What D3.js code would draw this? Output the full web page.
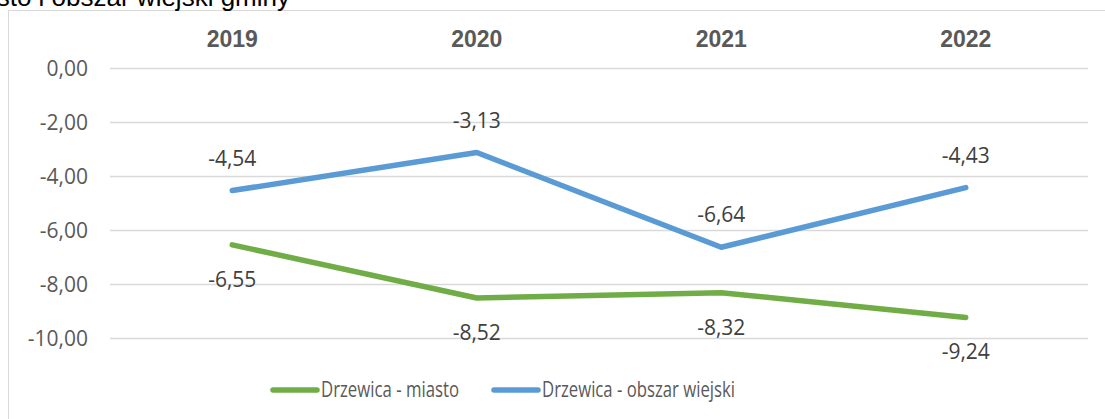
<!DOCTYPE html>
<html>
<head>
<meta charset="utf-8">
<script src="https://cdn.jsdelivr.net/npm/d3@7"></script>
<style>
  body { margin: 0; background: #fff; }
  svg { display: block; }
</style>
</head>
<body>
<div id="chart"></div>
<script>
// dane
var years = ['2019', '2020', '2021', '2022'];
var miasto = [-6.55, -8.52, -8.32, -9.24];
var obszarWiejski = [-4.54, -3.13, -6.64, -4.43];
var yTicks = [0, -2, -4, -6, -8, -10];
var seriesNames = ['Drzewica - miasto', 'Drzewica - obszar wiejski'];
var seriesColors = ['#70AD47', '#5B9BD5'];

var width = 1105, height = 419;
var plot = { left: 110, right: 1088, top: 68, bottom: 338 };

var pl = d3.formatLocale({ decimal: ',', thousands: ' ', grouping: [3], currency: ['', ' zł'], minus: '-' });
var fmt = pl.format('.2f');

var svg = d3.select('#chart').append('svg')
    .attr('width', width)
    .attr('height', height);

// ramka wykresu (prawa i dolna krawedz poza kadrem)
svg.append('rect')
    .attr('x', 8.5).attr('y', 10.5)
    .attr('width', 1200).attr('height', 500)
    .attr('fill', 'none')
    .attr('stroke', '#d9d9d9')
    .attr('stroke-width', 1);

// tytul - widoczny tylko dolny fragment
svg.append('text')
    .attr('x', 290).attr('y', 6)
    .attr('text-anchor', 'end')
    .style('font-family', '"Liberation Sans", Arial, sans-serif')
    .style('font-size', '26px')
    .style('fill', '#000')
    .text('Saldo migracji – miasto i obszar wiejski gminy');

var x = d3.scaleBand()
    .domain(years)
    .range([plot.left, plot.right]);

var y = d3.scaleLinear()
    .domain([-10, 0])
    .range([plot.bottom, plot.top]);

// os Y + linie siatki
var yAxis = svg.append('g')
    .attr('transform', 'translate(' + plot.left + ',0)')
    .call(d3.axisLeft(y)
        .tickValues(yTicks)
        .tickSize(-(plot.right - plot.left))
        .tickPadding(22)
        .tickFormat(fmt));
yAxis.select('.domain').remove();
yAxis.selectAll('.tick line')
    .attr('stroke', '#d9d9d9')
    .attr('stroke-width', 1.5);
yAxis.selectAll('.tick text')
    .attr('dy', '0.36em')
    .style('font-family', '"Open Sans", sans-serif')
    .style('font-size', '21px')
    .style('fill', '#595959');

// kategorie u gory
var xAxis = svg.append('g')
    .attr('transform', 'translate(0,47)')
    .call(d3.axisTop(x).tickSize(0).tickPadding(0));
xAxis.select('.domain').remove();
xAxis.selectAll('.tick text')
    .attr('dy', '0em')
    .style('font-family', '"Liberation Sans", Arial, sans-serif')
    .style('font-weight', 'bold')
    .style('font-size', '23px')
    .style('fill', '#595959');

var cx = function (d, i) { return x(years[i]) + x.bandwidth() / 2; };

var line = d3.line()
    .x(cx)
    .y(function (d) { return y(d); });

var series = [miasto, obszarWiejski];
// offsety etykiet: zielona pod punktem, niebieska nad punktem
var labelDy = [42, -25];

series.forEach(function (vals, s) {
    svg.append('path')
        .datum(vals)
        .attr('d', line)
        .attr('fill', 'none')
        .attr('stroke', seriesColors[s])
        .attr('stroke-width', 5.5)
        .attr('stroke-linecap', 'round')
        .attr('stroke-linejoin', 'round');
});

series.forEach(function (vals, s) {
    svg.selectAll('.lbl' + s)
        .data(vals)
        .enter()
        .append('text')
        .attr('class', 'lbl' + s)
        .attr('x', cx)
        .attr('y', function (d) { return y(d) + labelDy[s]; })
        .attr('text-anchor', 'middle')
        .style('font-family', '"Open Sans", sans-serif')
        .style('font-size', '21px')
        .style('fill', '#404040')
        .text(function (d) { return fmt(d); });
});

// legenda
var legendX = [273, 494];
var legendTextW = [138, 193];
var legend = svg.selectAll('.legend')
    .data(seriesNames)
    .enter()
    .append('g')
    .attr('class', 'legend')
    .attr('transform', function (d, i) { return 'translate(' + legendX[i] + ',390)'; });

legend.append('line')
    .attr('x1', 0).attr('x2', 44)
    .attr('y1', 0).attr('y2', 0)
    .attr('stroke', function (d, i) { return seriesColors[i]; })
    .attr('stroke-width', 5.5)
    .attr('stroke-linecap', 'round');

legend.append('text')
    .attr('x', 48)
    .attr('y', 7)
    .attr('textLength', function (d, i) { return legendTextW[i]; })
    .attr('lengthAdjust', 'spacingAndGlyphs')
    .style('font-family', '"Open Sans", sans-serif')
    .style('font-size', '21px')
    .style('fill', '#595959')
    .text(function (d) { return d; });
</script>
</body>
</html>
